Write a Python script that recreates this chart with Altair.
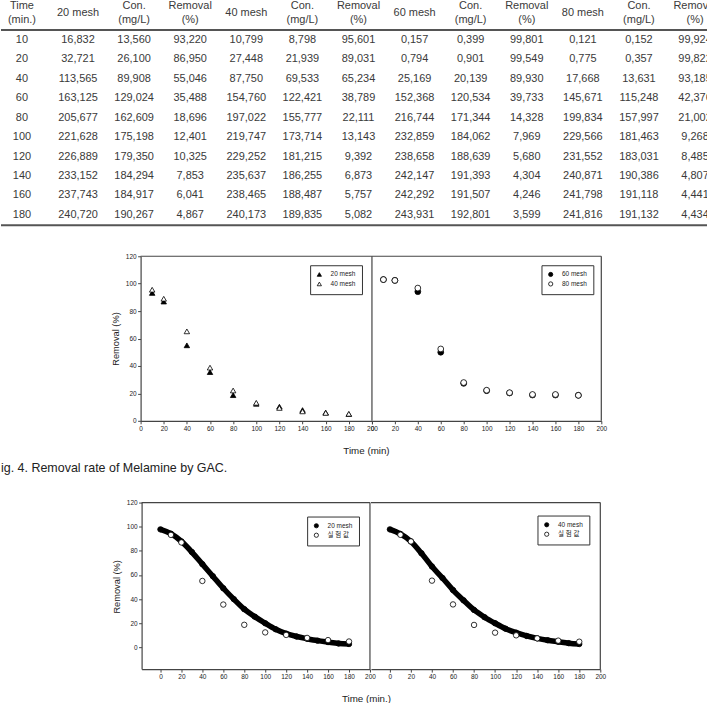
import altair as alt
import pandas as pd

# ---------------- table values ----------------
times = [10, 20, 40, 60, 80, 100, 120, 140, 160, 180]

mesh20 = [16.832, 32.721, 113.565, 163.125, 205.677, 221.628, 226.889, 233.152, 237.743, 240.720]
con20 = [13.560, 26.100, 89.908, 129.024, 162.609, 175.198, 179.350, 184.294, 184.917, 190.267]
rem20 = [93.220, 86.950, 55.046, 35.488, 18.696, 12.401, 10.325, 7.853, 6.041, 4.867]
mesh40 = [10.799, 27.448, 87.750, 154.760, 197.022, 219.747, 229.252, 235.637, 238.465, 240.173]
con40 = [8.798, 21.939, 69.533, 122.421, 155.777, 173.714, 181.215, 186.255, 188.487, 189.835]
rem40 = [95.601, 89.031, 65.234, 38.789, 22.111, 13.143, 9.392, 6.873, 5.757, 5.082]
mesh60 = [0.157, 0.794, 25.169, 152.368, 216.744, 232.859, 238.658, 242.147, 242.292, 243.931]
con60 = [0.399, 0.901, 20.139, 120.534, 171.344, 184.062, 188.639, 191.393, 191.507, 192.801]
rem60 = [99.801, 99.549, 89.930, 39.733, 14.328, 7.969, 5.680, 4.304, 4.246, 3.599]
mesh80 = [0.121, 0.775, 17.668, 145.671, 199.834, 229.566, 231.552, 240.871, 241.798, 241.816]
con80 = [0.152, 0.357, 13.631, 115.248, 157.997, 181.463, 183.031, 190.386, 191.118, 191.132]
rem80 = [99.924, 99.822, 93.185, 42.376, 21.002, 9.268, 8.485, 4.807, 4.441, 4.434]

col_keys = ["t", "m20", "c20", "r20", "m40", "c40", "r40",
            "m60", "c60", "r60", "m80", "c80", "r80"]
headers = ["Time\n(min.)", "20 mesh", "Con.\n(mg/L)", "Removal\n(%)",
           "40 mesh", "Con.\n(mg/L)", "Removal\n(%)",
           "60 mesh", "Con.\n(mg/L)", "Removal\n(%)",
           "80 mesh", "Con.\n(mg/L)", "Removal\n(%)"]

# ---------------- Fig. 4 (removal vs time) ----------------
rem60_fig = [103.0, 102.4, 94.2, 50.0, 27.3, 22.0, 20.3, 18.8, 18.8, 18.6]
rem80_fig = [103.0, 102.4, 96.8, 52.4, 27.9, 22.3, 20.5, 19.2, 19.2, 18.6]

# ---------------- model curves vs. measured ----------------
curve_times = [0, 10, 20, 30, 40, 50, 60, 70, 80, 90, 100, 110, 120, 130, 140, 150, 160, 170, 180]
curve20 = [97.8, 94.2, 87.8, 79.0, 69.0, 59.0, 49.0, 40.0, 31.7, 25.5, 20.0, 15.0, 11.4, 9.0, 7.2, 5.6, 4.4, 3.3, 2.8]
curve40 = [97.8, 94.0, 87.8, 78.0, 67.0, 57.5, 47.5, 39.0, 31.0, 25.0, 20.0, 15.5, 12.2, 9.5, 7.5, 5.9, 4.7, 3.5, 2.8]
meas20 = rem20
meas40 = [93.3, 87.8, 55.3, 35.6, 18.6, 12.2, 10.0, 7.5, 5.6, 4.7]
meas_label = "실 험 값"

FONT = "Liberation Sans, Arial, Noto Sans CJK KR"
TXT = "#3a3a3a"
FRAME = "#444"


def dec(v):
    return f"{v:.3f}".replace(".", ",")


# ---------------- table ----------------
cells = []
for i, t in enumerate(times):
    vals = [str(t)] + [dec(a[i]) for a in (mesh20, con20, rem20, mesh40, con40, rem40,
                                           mesh60, con60, rem60, mesh80, con80, rem80)]
    for k, s in zip(col_keys, vals):
        cells.append({"row": str(t), "col": k, "text": s})
cells = pd.DataFrame(cells)
head = pd.DataFrame({"row": ["hdr"] * len(col_keys), "col": col_keys, "text": headers})
head_two = head[head["text"].str.contains("\n")]
head_one = head[~head["text"].str.contains("\n")]

xcol = alt.X("col:N", scale=alt.Scale(type="point", domain=col_keys, range=[21, 696], padding=0), axis=None)
yrow = alt.Y("row:N", scale=alt.Scale(type="point", domain=["hdr"] + [str(t) for t in times],
                                      range=[19.5, 214.5], padding=0), axis=None)

cell_text = alt.Chart(cells).mark_text(fontSize=11, font=FONT, color=TXT, clip=True).encode(
    x=xcol, y=yrow, text="text:N")
head_text2 = alt.Chart(head_two).mark_text(fontSize=11, font=FONT, color=TXT, clip=True, dy=-14.5,
                                           lineBreak="\n", lineHeight=14).encode(
    x=xcol, y=yrow, text="text:N")
head_text1 = alt.Chart(head_one).mark_text(fontSize=11, font=FONT, color=TXT, clip=True, dy=-7.5).encode(
    x=xcol, y=yrow, text="text:N")
edges = pd.DataFrame({"edge": ["top"]})
rule_top = alt.Chart(edges).mark_rule(color="#555", strokeWidth=2).encode(
    x=alt.value(0), x2=alt.value(708), y=alt.value(29.2))
rule_bot = alt.Chart(edges).mark_rule(color="#555", strokeWidth=2).encode(
    x=alt.value(0), x2=alt.value(708), y=alt.value(225))

table = alt.layer(head_text2, head_text1, cell_text, rule_top, rule_bot).properties(width=708, height=256)

# ---------------- shared axis / legend styling ----------------
x_ticks = list(range(0, 201, 20))
y_ticks = list(range(0, 121, 20))
AX = dict(labelFontSize=6.5, labelColor="#222", labelFont=FONT, labelOverlap=False, labelFlush=False,
          labelBound=False, tickSize=3, tickColor=FRAME, tickWidth=1, domainColor=FRAME, domainWidth=1.2,
          grid=False, labelPadding=1.5, titleFont=FONT, titleFontWeight="normal", titleColor="#222")


def xaxis(offset, title=None, tx=0, ty=0):
    if title:
        return alt.Axis(**AX, values=x_ticks, orient="bottom", offset=offset, title=title,
                        titleX=tx, titleY=ty, titleBaseline="middle", titleAlign="center",
                        titleFontSize=9.8)
    return alt.Axis(**AX, values=x_ticks, orient="bottom", offset=offset, title=None)


def yaxis(offset, ty):
    return alt.Axis(**AX, values=y_ticks, orient="left", offset=offset, title="Removal (%)",
                    titleX=-25, titleY=ty, titleBaseline="middle", titleAlign="center",
                    titleAngle=270, titleFontSize=9.3)


def legend(x, y, sym):
    return alt.Legend(orient="none", legendX=x, legendY=y, title=None, symbolType=sym,
                      symbolSize=18, symbolStrokeColor="black", symbolStrokeWidth=0.8,
                      labelFontSize=6.5, labelFont=FONT, labelColor="#222",
                      strokeColor="#333", fillColor="white", padding=6, rowPadding=1.5,
                      labelOffset=8)


def frame(xs, ys, yax, xdom, ydom):
    # top edge and right edge of a panel, drawn in the panel's own data space
    one = pd.DataFrame({"k": [0]})
    top = alt.Chart(one).mark_rule(color=FRAME, strokeWidth=1.2).encode(
        x=alt.XDatum(xdom[0], scale=xs, axis=None), x2=alt.X2Datum(xdom[1]),
        y=alt.YDatum(ydom[1], scale=ys, axis=yax))
    right = alt.Chart(one).mark_rule(color=FRAME, strokeWidth=1.2).encode(
        x=alt.XDatum(xdom[1], scale=xs, axis=None),
        y=alt.YDatum(ydom[0], scale=ys, axis=yax), y2=alt.Y2Datum(ydom[1]))
    return [top, right]


# ---------------- Fig. 4 row ----------------
xd1, yd1 = [0, 200], [0, 120]
ys1 = alt.Scale(domain=yd1, range=[165, 0], nice=False, zero=False)
yax1 = yaxis(-140, 82.5)
xs1L = alt.Scale(domain=xd1, range=[140, 372], nice=False, zero=False)
xs1R = alt.Scale(domain=xd1, range=[372, 602], nice=False, zero=False)

df1L = pd.DataFrame({"time": times * 2, "removal": rem20 + rem40,
                     "series": ["20 mesh"] * 10 + ["40 mesh"] * 10})
df1R = pd.DataFrame({"time": times * 2, "removal": rem60_fig + rem80_fig,
                     "series": ["60 mesh"] * 10 + ["80 mesh"] * 10})

pts1L = alt.Chart(df1L).mark_point(shape="triangle-up", filled=True, size=30, stroke="black",
                                   strokeWidth=0.8, opacity=1).encode(
    x=alt.X("time:Q", scale=xs1L, axis=xaxis(-82, "Time (min)", 366, 30)),
    y=alt.Y("removal:Q", scale=ys1, axis=yax1),
    fill=alt.Fill("series:N", scale=alt.Scale(domain=["20 mesh", "40 mesh"], range=["black", "white"]),
                  legend=legend(310, 9, "triangle-up")))
pts1R = alt.Chart(df1R).mark_point(shape="circle", filled=True, size=34, stroke="black",
                                   strokeWidth=0.8, opacity=1).encode(
    x=alt.X("time:Q", scale=xs1R, axis=xaxis(-82)),
    y=alt.Y("removal:Q", scale=ys1, axis=yax1),
    fill=alt.Fill("series:N", scale=alt.Scale(domain=["60 mesh", "80 mesh"], range=["black", "white"]),
                  legend=legend(542, 9, "circle")))

caption = alt.Chart(pd.DataFrame({"cap": ["ig. 4. Removal rate of Melamine by GAC."]})).mark_text(
    align="left", baseline="middle", fontSize=12.5, font=FONT, color="#222").encode(
    x=alt.value(0), y=alt.value(212), text="cap:N")

fig4 = alt.layer(*frame(xs1L, ys1, yax1, xd1, yd1), pts1L,
                 *frame(xs1R, ys1, yax1, xd1, yd1), pts1R, caption).resolve_scale(
    x="independent", fill="independent").properties(width=708, height=247)

# ---------------- model vs measured row ----------------
xd2, yd2 = [-18, 200], [-18, 120]
ys2 = alt.Scale(domain=yd2, range=[167, 0], nice=False, zero=False)
yax2 = yaxis(-141, 84)
xs2L = alt.Scale(domain=xd2, range=[141, 370], nice=False, zero=False)
xs2R = alt.Scale(domain=xd2, range=[371, 601], nice=False, zero=False)


def model_layers(curve, meas, name, xs, xax, lx, ly):
    line_df = pd.DataFrame({"time": curve_times, "removal": curve})
    pts_df = pd.DataFrame({"time": curve_times + times, "removal": curve + meas,
                           "series": [name] * len(curve_times) + [meas_label] * len(times)})
    line = alt.Chart(line_df).mark_line(color="black", strokeWidth=5.5, interpolate="monotone").encode(
        x=alt.X("time:Q", scale=xs, axis=None), y=alt.Y("removal:Q", scale=ys2, axis=yax2))
    pts = alt.Chart(pts_df).mark_point(shape="circle", filled=True, size=30, stroke="black",
                                       strokeWidth=0.8, opacity=1).encode(
        x=alt.X("time:Q", scale=xs, axis=xax),
        y=alt.Y("removal:Q", scale=ys2, axis=yax2),
        fill=alt.Fill("series:N", scale=alt.Scale(domain=[name, meas_label], range=["black", "white"]),
                      legend=legend(lx, ly, "circle")))
    return frame(xs, ys2, yax2, xd2, yd2) + [line, pts]


layers2 = (model_layers(curve20, meas20, "20 mesh", xs2L, xaxis(0, "Time (min.)", 366, 29), 307, 14)
           + model_layers(curve40, meas40, "40 mesh", xs2R, xaxis(0), 538, 13))
fig_model = alt.layer(*layers2).resolve_scale(
    x="independent", fill="independent").properties(width=708, height=167)

chart = alt.vconcat(table, fig4, fig_model, spacing=0, bounds="flush").properties(
    padding=0, background="white").configure(font=FONT).configure_view(stroke=None)

chart.save("out.html", embed_options={"renderer": "svg", "actions": False})
